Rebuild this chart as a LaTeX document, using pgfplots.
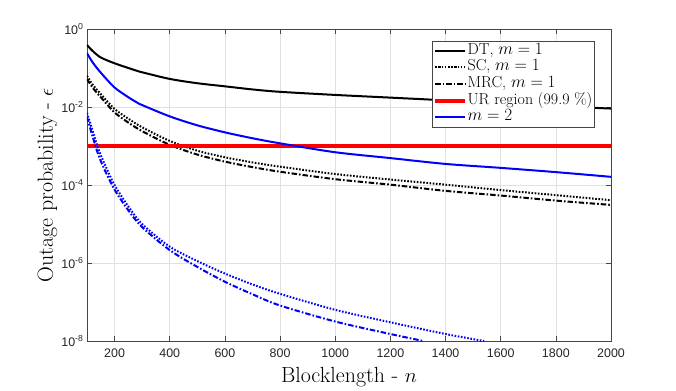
\documentclass[border=0pt]{standalone}
\usepackage{pgfplots}
\pgfplotsset{compat=1.18}
\usepackage{fontspec}
\newfontfamily\ticksf{Liberation Sans}
\definecolor{axgray}{RGB}{70,70,70}
\definecolor{tickcol}{RGB}{38,38,38}
\begin{document}
\begin{tikzpicture}
\begin{axis}[
  scale only axis,
  width=524bp, height=312bp,
  at={(0,0)}, anchor=south west,
  ymode=log,
  xmin=100, xmax=2000,
  ymin=1e-8, ymax=1,
  xtick={200,400,...,2000},
  ytick={1e-8,1e-6,1e-4,1e-2,1},
  yticklabels={10\textsuperscript{-8},10\textsuperscript{-6},10\textsuperscript{-4},10\textsuperscript{-2},10\textsuperscript{0}},
  minor tick num=0,
  yminorticks=false,
  tick align=inside,
  major tick length=5bp,
  every tick/.style={axgray, line width=0.5bp},
  axis line style={axgray, line width=0.6bp},
  grid=major,
  major grid style={black!12, line width=0.5bp},
  /pgf/number format/1000 sep={},
  /pgf/number format/assume math mode=true,
  xticklabel style={font=\ticksf\fontsize{12.5}{13}\selectfont, text=tickcol, yshift=-4bp},
  yticklabel style={font=\ticksf\fontsize{12.5}{13}\selectfont, text=tickcol},
  xlabel={Blocklength - $n$},
  ylabel={Outage probability - $\epsilon$},
  label style={font=\fontsize{22}{24}\selectfont},
  xlabel style={at={(axis description cs:0.5,-0.1346)}, anchor=base},
  ylabel style={at={(axis description cs:-0.0649,0.5)}, anchor=base},
  legend style={at={(axis description cs:0.6584,0.9615)}, anchor=north west,
    font=\fontsize{16}{17}\selectfont, draw=axgray,
    inner sep=1bp, row sep=0bp, cells={anchor=west},
    nodes={inner sep=0.6bp, text height=11.2bp, text depth=4.3bp}},
  legend image code/.code={\draw[#1] plot coordinates {(0bp,0bp) (30bp,0bp)};},
]
% DT, m=1
\addplot[black, line width=2bp, smooth] coordinates {
(100,0.389) (120,0.275) (150,0.186) (200,0.132) (250,0.1) (280,0.0851) (300,0.0776)
(400,0.0525) (500,0.0407) (600,0.0339) (700,0.0282) (800,0.0245) (1000,0.0204)
(1200,0.0174) (1400,0.0148) (1600,0.0123) (1800,0.0105) (2000,0.00912)};
\addlegendentry{DT, $m=1$}
% SC, m=1
\addplot[black, line width=2bp, dash pattern=on 1.6bp off 1.6bp, smooth] coordinates {
(100,0.0631) (120,0.038) (150,0.0214) (200,8.91e-3) (250,5.01e-3) (300,3.02e-3)
(400,1.35e-3) (500,7.59e-4) (600,5.13e-4) (700,3.80e-4) (800,2.95e-4) (1000,1.91e-4)
(1200,1.38e-4) (1400,1.02e-4) (1600,7.41e-5) (1800,5.50e-5) (2000,4.07e-5)};
\addlegendentry{SC, $m=1$}
% MRC, m=1
\addplot[black, line width=2bp, dash pattern=on 5.5bp off 2bp on 1.6bp off 2bp, smooth] coordinates {
(100,0.0525) (120,0.0316) (150,0.0178) (200,7.24e-3) (250,3.98e-3) (300,2.40e-3)
(400,1.07e-3) (500,6.03e-4) (600,3.98e-4) (700,2.88e-4) (800,2.19e-4) (1000,1.41e-4)
(1200,1.02e-4) (1400,7.08e-5) (1600,5.37e-5) (1800,3.98e-5) (2000,3.09e-5)};
\addlegendentry{MRC, $m=1$}
% UR region
\addplot[red, line width=3.8bp] coordinates {(100,1e-3) (2000,1e-3)};
\addlegendentry{UR region (99.9 \%)}
% DT, m=2
\addplot[blue, line width=2bp, smooth] coordinates {
(100,0.240) (120,0.141) (150,0.0759) (200,0.0316) (250,0.0178) (280,0.0132) (300,0.0112)
(400,5.75e-3) (500,3.39e-3) (600,2.24e-3) (700,1.58e-3) (800,1.17e-3) (1000,6.92e-4)
(1200,4.90e-4) (1400,3.47e-4) (1600,2.75e-4) (1800,2.14e-4) (2000,1.62e-4)};
\addlegendentry{$m=2$}
% SC, m=2
\addplot[blue, line width=2bp, dash pattern=on 1.6bp off 1.6bp, smooth, forget plot] coordinates {
(100,7.08e-3) (120,2.51e-3) (140,8.91e-4) (160,3.98e-4) (200,1e-4) (250,2.82e-5)
(300,1e-5) (400,2.63e-6) (500,1.12e-6) (600,5.37e-7) (700,2.82e-7) (800,1.62e-7)
(1000,6.31e-8) (1200,3.02e-8) (1400,1.51e-8) (1540,1e-8)};
% MRC, m=2
\addplot[blue, line width=2bp, dash pattern=on 5.5bp off 2bp on 1.6bp off 2bp, smooth, forget plot] coordinates {
(100,5.62e-3) (120,1.78e-3) (140,6.31e-4) (160,2.82e-4) (200,7.59e-5) (250,2.24e-5)
(300,8.32e-6) (400,2.14e-6) (500,7.94e-7) (600,3.31e-7) (700,1.58e-7) (800,8.13e-8)
(1000,3.16e-8) (1200,1.51e-8) (1320,1e-8)};
\end{axis}
\pgfresetboundingbox
\path[use as bounding box] (-87bp,-50bp) rectangle (589bp,341bp);
\end{tikzpicture}
\end{document}
